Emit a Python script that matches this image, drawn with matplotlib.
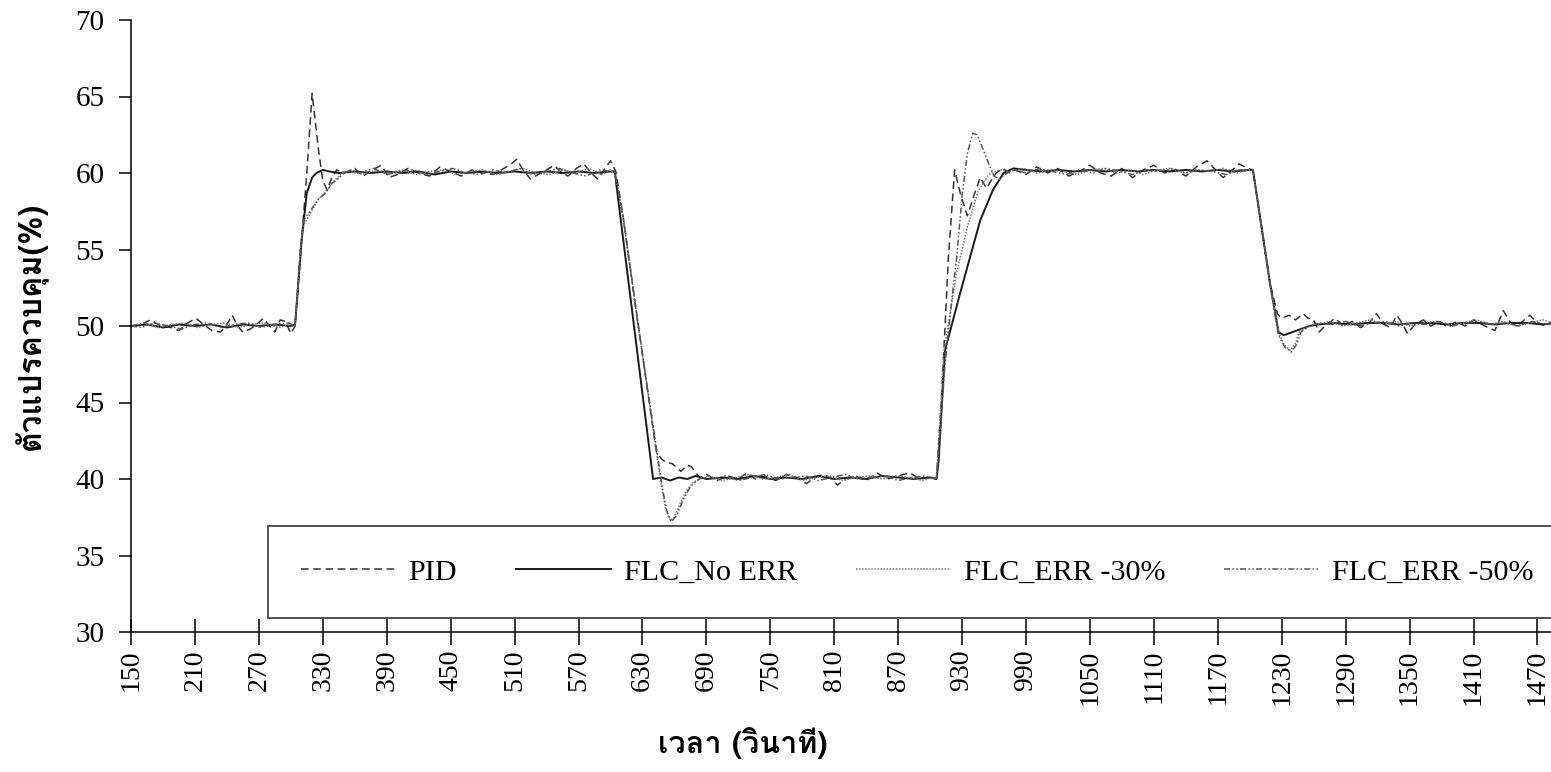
import numpy as np
import matplotlib
matplotlib.use('Agg')
import matplotlib.pyplot as plt
from matplotlib import font_manager
from matplotlib.ft2font import FT2Font

# (time s, value %)
pid = [(150, 50.0), (160, 50.1), (168, 50.4), (178, 50.0), (188, 49.9), (195, 49.7), (203, 50.2),
       (211, 50.5), (220, 50.0), (226, 49.7), (234, 49.6), (240, 50.1), (245, 50.7), (250, 50.0),
       (255, 49.6), (262, 49.8), (268, 50.1), (274, 50.5), (280, 50.0), (285, 49.6), (290, 50.4),
       (295, 50.3), (300, 49.5), (304, 50.0), (310, 55.5), (315, 60.0), (320, 65.2), (326, 61.5),
       (330, 59.5), (334, 58.9), (338, 59.6), (343, 60.2), (350, 60.0), (360, 60.3), (368, 59.8),
       (376, 60.2), (385, 60.5), (392, 59.7), (400, 59.9), (410, 60.3), (420, 60.0), (430, 59.8),
       (440, 60.4), (450, 60.1), (460, 59.8), (470, 60.2), (480, 60.0), (490, 59.9), (500, 60.3),
       (507, 60.6), (512, 60.9), (518, 60.2), (525, 59.6), (532, 59.9), (540, 60.2), (547, 60.5),
       (553, 60.1), (560, 59.8), (568, 60.3), (575, 60.6), (582, 60.0), (588, 59.6), (594, 60.2),
       (600, 60.8), (605, 60.1), (612, 57.1), (625, 50.6), (643, 41.8), (648, 41.3), (652, 41.1),
       (658, 41.0), (666, 40.5), (672, 40.9), (676, 40.8), (680, 40.4), (684, 40.1), (690, 40.3),
       (700, 39.9), (710, 40.2), (720, 40.0), (728, 40.4), (736, 40.0), (745, 40.2), (755, 39.9),
       (765, 40.3), (775, 40.1), (784, 39.7), (792, 40.1), (800, 40.3), (808, 40.0), (813, 39.6),
       (820, 40.0), (830, 40.2), (840, 39.9), (850, 40.4), (860, 40.0), (870, 40.2), (881, 40.4),
       (890, 40.0), (900, 40.1), (906, 40.0), (911, 45.6), (917, 54.3), (923, 60.2), (929, 58.5),
       (935, 57.2), (941, 58.5), (947, 59.7), (953, 59.0), (958, 59.6), (962, 60.0), (968, 60.3),
       (975, 60.0), (980, 60.2), (990, 59.9), (1000, 60.4), (1010, 60.0), (1020, 60.3), (1030, 59.8),
       (1040, 60.1), (1050, 60.5), (1060, 60.0), (1070, 59.8), (1080, 60.3), (1090, 59.7), (1100, 60.2),
       (1110, 60.5), (1120, 60.0), (1130, 60.2), (1140, 59.8), (1150, 60.4), (1160, 60.8), (1168, 60.2),
       (1175, 59.7), (1182, 60.1), (1190, 60.6), (1198, 60.3), (1203, 60.2), (1219, 52.8), (1226, 50.8),
       (1230, 50.5), (1237, 50.7), (1243, 50.4), (1250, 50.8), (1255, 50.5), (1260, 50.4), (1265, 49.6),
       (1272, 50.1), (1280, 50.5), (1288, 50.0), (1296, 50.3), (1304, 49.9), (1312, 50.2), (1319, 50.8),
       (1326, 50.1), (1332, 49.9), (1338, 50.7), (1343, 50.2), (1348, 49.5), (1355, 50.1), (1363, 50.4),
       (1370, 50.0), (1378, 50.3), (1386, 49.9), (1394, 50.3), (1402, 50.0), (1410, 50.4), (1418, 50.1),
       (1424, 49.9), (1430, 49.7), (1438, 51.0), (1444, 50.3), (1450, 50.0), (1456, 50.3), (1463, 50.7),
       (1470, 50.2), (1478, 50.0), (1486, 50.4), (1494, 50.2), (1500, 50.3)]

flc_no_err = [(150, 50.0), (165, 50.1), (180, 49.9), (195, 50.1), (210, 50.0), (225, 50.1), (240, 49.9),
              (255, 50.1), (270, 50.0), (285, 50.1), (300, 50.0), (304, 50.1), (310, 55.5), (315, 58.7),
              (320, 59.7), (324, 60.0), (330, 60.2), (336, 60.1), (345, 60.0), (360, 60.1), (375, 60.0),
              (390, 60.1), (405, 60.0), (420, 60.1), (435, 59.9), (450, 60.1), (465, 60.0), (480, 60.1),
              (495, 60.0), (510, 60.1), (525, 60.0), (540, 60.1), (555, 60.0), (570, 60.1), (585, 60.0),
              (600, 60.1), (604, 60.1), (621, 50.6), (640, 40.0), (648, 40.1), (656, 39.9), (664, 40.1),
              (672, 40.0), (680, 40.2), (690, 40.0), (705, 40.1), (720, 40.0), (735, 40.2), (750, 40.0),
              (765, 40.1), (780, 40.0), (795, 40.2), (810, 40.0), (825, 40.1), (840, 40.0), (855, 40.2),
              (870, 40.1), (885, 40.0), (900, 40.1), (906, 40.0), (908, 41.2), (914, 48.4), (928, 52.1),
              (947, 56.9), (959, 58.9), (969, 60.0), (978, 60.3), (990, 60.2), (1005, 60.1), (1020, 60.2),
              (1035, 60.1), (1050, 60.2), (1065, 60.1), (1080, 60.2), (1095, 60.1), (1110, 60.2), (1125, 60.1),
              (1140, 60.2), (1155, 60.1), (1170, 60.2), (1185, 60.1), (1200, 60.2), (1203, 60.2), (1219, 52.8),
              (1227, 49.6), (1232, 49.4), (1244, 49.7), (1256, 50.0), (1264, 50.1), (1280, 50.2), (1295, 50.1),
              (1310, 50.2), (1325, 50.2), (1340, 50.1), (1355, 50.2), (1370, 50.2), (1385, 50.1), (1400, 50.2),
              (1415, 50.2), (1430, 50.1), (1445, 50.2), (1460, 50.2), (1475, 50.1), (1490, 50.2), (1500, 50.2)]

flc_err30 = [(150, 50.0), (162, 50.2), (175, 49.9), (188, 50.1), (200, 50.2), (212, 49.9), (225, 50.1),
             (238, 50.2), (250, 49.9), (262, 50.1), (275, 50.2), (288, 49.9), (300, 50.1), (304, 50.0),
             (309, 55.0), (312, 56.6), (318, 57.3), (325, 58.2), (334, 58.9), (341, 59.5), (348, 60.0),
             (355, 60.1), (368, 59.9), (380, 60.2), (392, 60.0), (405, 60.2), (418, 59.9), (430, 60.1),
             (443, 60.2), (455, 59.9), (468, 60.1), (480, 60.2), (493, 59.9), (505, 60.1), (518, 60.3),
             (530, 60.0), (543, 59.9), (555, 60.2), (568, 60.0), (580, 60.3), (592, 59.9), (600, 60.2),
             (604, 60.1), (612, 57.1), (625, 50.6), (643, 41.8), (648, 39.5), (652, 38.0), (656, 37.3),
             (660, 37.5), (666, 38.5), (672, 39.3), (678, 39.8), (684, 40.0), (692, 40.2), (705, 39.9),
             (718, 40.1), (730, 40.3), (743, 40.0), (755, 40.1), (768, 40.3), (780, 39.9), (793, 40.1),
             (805, 40.2), (818, 39.9), (830, 40.1), (843, 40.2), (855, 40.0), (868, 40.2), (880, 40.1),
             (893, 39.9), (902, 40.1), (906, 40.0), (913, 48.4), (925, 53.5), (935, 56.5), (945, 58.8),
             (955, 59.9), (965, 60.2), (975, 60.1), (988, 60.3), (1000, 60.0), (1013, 60.2), (1025, 60.1),
             (1038, 59.9), (1050, 60.2), (1063, 60.3), (1075, 60.0), (1088, 60.2), (1100, 59.9), (1113, 60.2),
             (1125, 60.3), (1138, 60.0), (1150, 60.2), (1163, 60.1), (1175, 60.3), (1188, 60.0), (1198, 60.2),
             (1203, 60.2), (1219, 52.8), (1227, 49.6), (1232, 48.8), (1238, 48.4), (1243, 48.9), (1247, 49.7),
             (1255, 50.0), (1263, 50.1), (1275, 50.3), (1288, 50.0), (1300, 50.2), (1313, 50.4), (1325, 50.1),
             (1338, 50.3), (1350, 50.0), (1363, 50.2), (1375, 50.3), (1388, 50.1), (1400, 50.2), (1413, 50.4),
             (1425, 50.1), (1438, 50.3), (1450, 50.0), (1463, 50.2), (1475, 50.4), (1488, 50.1), (1500, 50.2)]

flc_err50 = [(150, 50.0), (160, 49.9), (172, 50.2), (185, 50.0), (198, 49.8), (210, 50.1), (222, 50.2),
             (235, 49.9), (248, 50.1), (260, 50.2), (272, 49.9), (285, 50.1), (298, 50.2), (304, 50.0),
             (309, 55.0), (312, 56.9), (318, 57.5), (326, 58.3), (333, 58.7), (338, 59.3), (344, 59.6),
             (350, 60.0), (356, 60.2), (365, 60.0), (378, 60.3), (390, 59.9), (402, 60.1), (415, 60.2),
             (427, 59.9), (440, 60.1), (452, 60.3), (465, 60.0), (477, 59.9), (490, 60.2), (502, 60.0),
             (515, 60.3), (527, 59.9), (540, 60.1), (552, 60.3), (565, 60.0), (577, 59.8), (590, 60.2),
             (600, 60.1), (604, 60.1), (612, 57.0), (625, 50.5), (644, 41.6), (649, 39.3), (653, 37.9),
             (657, 37.2), (662, 37.6), (668, 38.6), (675, 39.5), (681, 39.9), (686, 40.1), (695, 40.0),
             (708, 40.2), (720, 39.9), (733, 40.1), (745, 40.3), (758, 40.0), (770, 40.1), (783, 40.2),
             (795, 39.9), (808, 40.1), (820, 40.3), (833, 40.0), (845, 40.1), (858, 40.2), (870, 39.9),
             (883, 40.1), (895, 40.2), (906, 40.0), (914, 47.5), (920, 51.5), (925, 54.5), (930, 58.5),
             (935, 61.3), (940, 62.6), (944, 62.5), (950, 61.5), (955, 60.6), (960, 59.8), (965, 59.6),
             (970, 59.9), (978, 60.2), (990, 60.0), (1003, 60.3), (1015, 60.1), (1028, 59.9), (1040, 60.2),
             (1053, 60.0), (1065, 60.3), (1078, 60.1), (1090, 59.9), (1103, 60.2), (1115, 60.1), (1128, 60.3),
             (1140, 60.0), (1153, 60.2), (1165, 60.1), (1178, 59.9), (1190, 60.2), (1203, 60.2), (1219, 52.7),
             (1227, 49.4), (1233, 48.6), (1239, 48.3), (1244, 48.8), (1248, 49.6), (1256, 50.0), (1264, 50.2),
             (1277, 50.1), (1290, 50.3), (1302, 50.0), (1315, 50.2), (1327, 50.3), (1340, 50.0), (1352, 50.2),
             (1365, 50.1), (1377, 50.3), (1390, 50.0), (1402, 50.2), (1415, 50.3), (1427, 50.1), (1440, 50.2),
             (1452, 50.0), (1465, 50.3), (1477, 50.1), (1490, 50.2), (1500, 50.2)]

x_ticks = list(range(150, 1471, 60))
y_ticks = [30, 35, 40, 45, 50, 55, 60, 65, 70]
y_label = 'ตัวแปรควบคุม(%)'
x_label = 'เวลา (วินาที)'

# find an installed font that has Thai glyphs
thai_font = 'DejaVu Sans'
for f in font_manager.fontManager.ttflist:
    try:
        if 0x0E27 in FT2Font(f.fname).get_charmap():
            thai_font = f.name
            break
    except Exception:
        pass

plt.rcParams['font.family'] = ['Liberation Serif', 'DejaVu Serif']

W, H = 1551, 772
fig = plt.figure(figsize=(W / 100, H / 100), dpi=100)
ax = fig.add_axes([131 / W, (H - 632) / H, 0.9274, (632 - 20) / H])

def xy(pairs):
    a = np.array(pairs)
    return a[:, 0], a[:, 1]

t, v = xy(pid)
ax.plot(t, v, color='#333333', lw=1.1, dashes=(5, 3), label='PID')
t, v = xy(flc_no_err)
ax.plot(t, v, color='#1a1a1a', lw=1.4, ls='-', label='FLC_No ERR')
t, v = xy(flc_err30)
ax.plot(t, v, color='#777777', lw=1.1, ls=(0, (1, 1)), label='FLC_ERR -30%')
t, v = xy(flc_err50)
ax.plot(t, v, color='#555555', lw=1.1, ls=(0, (4, 1.5, 1, 1.5, 1, 1.5)), label='FLC_ERR -50%')

ax.set_xlim(150, 1500)
ax.set_ylim(30, 70)
ax.set_xticks(x_ticks)
ax.set_xticklabels([str(x) for x in x_ticks], rotation=90, fontsize=20)
ax.set_yticks(y_ticks)
ax.set_yticklabels([str(y) for y in y_ticks], fontsize=21)
ax.tick_params(axis='x', direction='inout', length=19, width=1.1, pad=3)
ax.tick_params(axis='y', direction='out', length=9, width=1.1, pad=10)

for s in ['top', 'right']:
    ax.spines[s].set_visible(False)
for s in ['left', 'bottom']:
    ax.spines[s].set_linewidth(1.1)

ax.set_ylabel(y_label, family=[thai_font, 'DejaVu Sans'], fontsize=23, fontweight='bold')
ax.yaxis.set_label_coords(-0.058, 0.5)
ax.set_xlabel(x_label, family=[thai_font, 'DejaVu Sans'], fontsize=22, fontweight='bold')
ax.xaxis.set_label_coords(0.425, -0.155)

leg = ax.legend(loc='upper left', bbox_to_anchor=(268 / W, 1 - 526 / H), bbox_transform=fig.transFigure,
                ncol=4, fontsize=21.7, frameon=True, fancybox=False, borderaxespad=0, borderpad=1.08,
                handlelength=3.15, handletextpad=0.43, columnspacing=1.95)
leg.get_frame().set_edgecolor('black')
leg.get_frame().set_linewidth(1.2)

fig.savefig('out.png', dpi=100)
